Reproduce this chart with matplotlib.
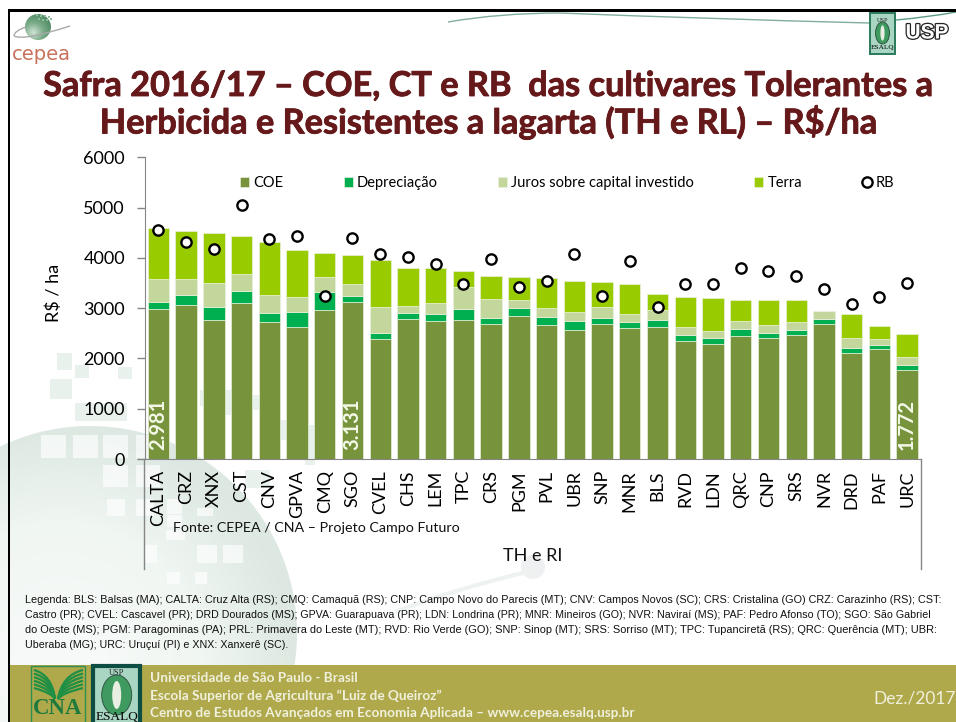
import numpy as np
import matplotlib
matplotlib.use('Agg')
import matplotlib.pyplot as plt
from matplotlib.patches import Rectangle, Circle, Ellipse, PathPatch
from matplotlib.path import Path
from matplotlib.colors import LinearSegmentedColormap
from matplotlib.transforms import IdentityTransform
import matplotlib.patheffects as pe

categories = ['CALTA','CRZ','XNX','CST','CNV','GPVA','CMQ','SGO','CVEL','CHS','LEM','TPC','CRS','PGM',
              'PVL','UBR','SNP','MNR','BLS','RVD','LDN','QRC','CNP','SRS','NVR','DRD','PAF','URC']
coe = [2981,3063,2765,3097,2719,2619,2958,3131,2381,2779,2745,2759,2679,2838,
       2659,2566,2679,2599,2619,2341,2281,2447,2401,2467,2686,2102,2182,1772]
depreciacao = [146,199,259,251,185,305,358,118,119,125,146,225,126,166,
               159,179,133,126,146,126,126,139,106,99,99,106,93,98]
juros = [460,318,476,332,359,299,304,232,524,140,212,431,378,152,
         179,179,212,166,193,159,133,159,159,153,159,199,106,159]
terra = [1002,962,1002,750,1054,928,485,571,928,756,697,318,458,471,
         604,624,504,584,331,597,663,425,497,437,0,478,265,458]
rb = [4549,4310,4178,5060,4383,4436,3236,4397,4072,4025,3879,3475,3979,3415,
      3541,4085,3249,3932,3031,3475,3475,3793,3740,3641,3375,3077,3223,3495]
series_names = ['COE','Depreciação','Juros sobre capital investido','Terra','RB']
series_colors = ['#77933C','#00B050','#C3D69B','#99CC00']
labelled = {0:'2.981', 7:'3.131', 27:'1.772'}
y_ticks = [0,1000,2000,3000,4000,5000,6000]

title_lines = ['Safra 2016/17 – COE, CT e RB  das cultivares Tolerantes a',
               'Herbicida e Resistentes a lagarta (TH e RL) – R$/ha']
legenda_lines = [
 'Legenda: BLS: Balsas (MA); CALTA: Cruz Alta (RS); CMQ: Camaquã (RS); CNP: Campo Novo do Parecis (MT); CNV: Campos Novos (SC); CRS: Cristalina (GO) CRZ: Carazinho (RS); CST:',
 'Castro (PR); CVEL: Cascavel (PR); DRD Dourados (MS); GPVA: Guarapuava (PR); LDN: Londrina (PR); MNR: Mineiros (GO); NVR: Naviraí (MS); PAF: Pedro Afonso (TO); SGO: São Gabriel',
 'do Oeste (MS); PGM: Paragominas (PA); PRL: Primavera do Leste (MT); RVD: Rio Verde (GO); SNP: Sinop (MT); SRS: Sorriso (MT); TPC: Tupanciretã (RS); QRC: Querência (MT); UBR:',
 'Uberaba (MG); URC: Uruçuí (PI) e XNX: Xanxerê (SC).']
legenda_sizes = [7.82, 7.65, 7.92, 7.68]
footer_lines = ['Universidade de São Paulo - Brasil',
                'Escola Superior de Agricultura “Luiz de Queiroz”',
                'Centro de Estudos Avançados em Economia Aplicada – www.cepea.esalq.usp.br']

W, H = 956, 722
plt.rcParams['font.family'] = ['Lato', 'DejaVu Sans']
fig = plt.figure(figsize=(W/100, H/100), dpi=100, facecolor='white')

bg = fig.add_axes([0, 0, 1, 1], zorder=0)
bg.set_xlim(0, W); bg.set_ylim(H, 0); bg.axis('off')

def curve(ax, pts, color, lw, alpha=1, z=1):
    verts = [pts[0]]; codes = [Path.MOVETO]
    for i in range(1, len(pts), 2):
        verts += [pts[i], pts[i+1]]; codes += [Path.CURVE3, Path.CURVE3]
    ax.add_patch(PathPatch(Path(verts, codes), fc='none', ec=color, lw=lw, alpha=alpha, zorder=z))

cx, cy, r = 90, 633, 207
yy, xx = np.mgrid[400:722:2, 0:320:2]
d = np.hypot(xx-cx+30, yy-cy-30)/(r+30)
cm = LinearSegmentedColormap.from_list('g', ['#f6f9f7', '#f0f6f2', '#dce8e1'])
im = bg.imshow(d, extent=(0, 320, 722, 400), cmap=cm, vmin=0.2, vmax=1, zorder=1, aspect='auto')
im.set_clip_path(Circle((cx, cy), r, transform=bg.transData))
bg.set_xlim(0, W); bg.set_ylim(H, 0)

white_sq = [(41,435,25,23),(73,435,25,23),(103,435,25,23),(136,435,24,23),(103,465,25,22),(136,465,24,22),
            (107,499,18,17),(136,499,18,17),(166,530,19,10),(197,545,20,18),(223,545,20,18),(145,545,12,18),
            (197,508,16,8),(167,499,15,15),(167,515,15,12),(167,572,13,12),(195,572,12,12)]
for x, y, w, h in white_sq:
    bg.add_patch(Rectangle((x, y), w, h, fc='white', ec='none', alpha=.65, zorder=2))
pale_sq = [(57,353,15,17),(75,365,14,13),(50,379,22,20),(118,367,14,12),(75,403,52,18),(225,390,20,25),
           (250,395,20,15),(280,420,20,20),(245,470,25,18),(200,390,16,16),(305,425,10,40)]
for x, y, w, h in pale_sq:
    bg.add_patch(Rectangle((x, y), w, h, fc='#e6efea', ec='none', alpha=.85, zorder=2))
bg.add_patch(Circle((533, 567), 12, fc='#eef0f2', ec='none', zorder=2))
curve(bg, [(395,612),(450,590),(535,570)], '#eef2f0', 3, z=2)

bg.add_patch(Rectangle((8, 9), W-8, 2.5, fc='black', ec='none', zorder=6))
bg.add_patch(Rectangle((8, 9), 2.2, H-9, fc='black', ec='none', zorder=6))
bg.add_patch(Rectangle((10, 665), W-10, 57, fc='#AFA94C', ec='none', zorder=5))

curve(bg, [(448,22),(500,13),(560,13),(710,19),(869,23)], '#7fae9c', 1.0, z=3)
curve(bg, [(896,20),(930,17),(956,12)], '#5c9c84', 1.0, z=3)

yy2, xx2 = np.mgrid[12:42:1, 24:54:1]
gl = bg.imshow(np.hypot(xx2-33, yy2-32), extent=(24, 54, 42, 12),
               cmap=LinearSegmentedColormap.from_list('g2', ['#cfe3d4', '#79ab88', '#4f8a63']),
               vmin=0, vmax=20, zorder=3, aspect='auto')
gl.set_clip_path(Circle((38, 27), 13, transform=bg.transData))
bg.set_xlim(0, W); bg.set_ylim(H, 0)
curve(bg, [(14,36),(24,41),(70,26)], '#a9a9a9', 1.0, z=4)
curve(bg, [(14,36),(14,31),(26,27)], '#a9a9a9', 1.0, z=4)
for x, y in [(36,14),(40,15),(44,15),(48,16),(42,19),(46,19),(50,18),(38,18)]:
    bg.add_patch(Rectangle((x, y), 2, 2, fc='#8fbd9e', ec='none', zorder=4))
bg.text(41, 60, 'cepea', color='#C9715C', fontsize=14, ha='center', va='baseline',
        family='DejaVu Sans', zorder=4)

def esalq(ax, x0, y0, x1, y1, ec, lw, ox, oy, orx, ory, fs_top, fs_bot, ybot):
    ax.add_patch(Rectangle((x0, y0), x1-x0, y1-y0, fc='#A9D6C3', ec=ec, lw=lw, zorder=7))
    ax.add_patch(Ellipse((ox, oy), 2*orx, 2*ory, fc='#3E9A5E', ec='#2b4a3a', lw=.6, zorder=8))
    ax.add_patch(Ellipse((ox, oy), orx*.6, ory*1.4, fc='#E8EFE2', ec='none', zorder=9))
    ax.text((x0+x1)/2, y0+7, 'USP', fontsize=fs_top, ha='center', va='center', color='#222222',
            family='Liberation Serif', zorder=9)
    ax.text((x0+x1)/2, ybot, 'ESALQ', fontsize=fs_bot, ha='center', va='center', color='black',
            family='Liberation Serif', zorder=9)

esalq(bg, 870, 13, 895, 54, '#2a7a5c', 1.4, 882.5, 33, 7, 11, 4.5, 5.2, 48)
bg.text(927, 33, 'USP', fontsize=15, fontweight='bold', ha='center', va='center', color='white',
        family='Liberation Sans', zorder=7, path_effects=[pe.withStroke(linewidth=1.8, foreground='#222222')])

bg.add_patch(Rectangle((31, 666), 54, 58, fc='none', ec='#2f8f4f', lw=1.0, zorder=7))
for k in range(6):
    curve(bg, [(34,670+k*3.6),(52,675+k*3.6),(55,699)], '#1f8f45', 1.6, z=8)
    curve(bg, [(83,670+k*3.6),(62,675+k*3.6),(58,699)], '#1f8f45', 1.6, z=8)
bg.text(58, 708, 'CNA', fontsize=16.5, fontweight='bold', family='Liberation Serif', color='#1d7a3c',
        ha='center', va='center', zorder=8)
esalq(bg, 93, 666, 140, 730, '#0d4d43', 3, 116.7, 695, 15, 20, 6, 9.5, 717)

for line, y in zip(title_lines, (86, 122)):
    bg.text(488, y, line, fontsize=24.7, fontweight='bold', color='#66191A', ha='center', va='center', zorder=3,
            path_effects=[pe.withStroke(linewidth=0.6, foreground='#66191A')])
for line, y, fs_l in zip(legenda_lines, (600, 615, 630, 645), legenda_sizes):
    bg.text(25, y, line, fontsize=fs_l, family='Liberation Sans', color='#111111', ha='left', va='center', zorder=3)
for line, y in zip(footer_lines, (678, 696, 713)):
    bg.text(150, y, line, fontsize=9.8, fontweight='bold', color='#F0F0DC', ha='left', va='center', zorder=7)
bg.text(956, 698, 'Dez./2017', fontsize=12.5, color='#F0F0DC', ha='right', va='center', zorder=7)
bg.text(173, 528, 'Fonte: CEPEA / CNA – Projeto Campo Futuro', fontsize=10.3, color='#111111', ha='left', va='center', zorder=3)
bg.text(533, 556, 'TH e RI', fontsize=13, color='#111111', ha='center', va='center', zorder=3)

L, R, B, T = 144.5, 921, 459, 157.3
ax = fig.add_axes([L/W, 1-B/H, (R-L)/W, (B-T)/H], zorder=2)
ax.patch.set_alpha(0)
x = np.arange(len(categories))
bottom = np.zeros(len(x))
for vals, c, name in zip([coe, depreciacao, juros, terra], series_colors, series_names):
    ax.bar(x, vals, 0.77, bottom=bottom, color=c, label=name, edgecolor='#e9f0dc', linewidth=0.5)
    bottom += np.array(vals)
ax.plot(x, rb, 'o', ms=7.4, mfc='white', mec='black', mew=1.7, ls='none', label=series_names[4], zorder=5)
for i, s in labelled.items():
    ax.text(i, 170, s, rotation=90, color='#F4F8E8', fontsize=14.5, fontweight='bold', ha='center', va='bottom')
ax.set_xlim(-0.5, len(x)-0.5); ax.set_ylim(0, 6000)
ax.set_yticks(y_ticks)
ax.set_xticks(x); ax.set_xticklabels(categories, rotation=90, va='top', ha='center')
ax.tick_params(axis='y', labelsize=13, length=6, width=1, color='#868686', pad=8)
ax.tick_params(axis='x', labelsize=13, length=0, pad=8)
for s in ('top', 'right'):
    ax.spines[s].set_visible(False)
for s in ('left', 'bottom'):
    ax.spines[s].set_color('#868686')
ax.set_ylabel('R$ / ha', fontsize=13)
ax.yaxis.set_label_coords((62-L)/(R-L), 0.55)
for xp in (L, R):
    bg.plot([xp, xp], [B, 569], color='#868686', lw=1, zorder=3)

fs = 10.5; px = fs*100/72
h, l = ax.get_legend_handles_labels()
order = [1, 2, 3, 4, 0]
ax.legend([h[i] for i in order], [l[i] for i in order], ncol=5, frameon=False, fontsize=fs,
          loc='center', bbox_to_anchor=(567, H-183), bbox_transform=IdentityTransform(),
          columnspacing=60.5/px, handlelength=9/px, handleheight=9/px, handletextpad=4/px, borderpad=0, labelspacing=0)

fig.savefig('out.png', dpi=100, facecolor='white')
